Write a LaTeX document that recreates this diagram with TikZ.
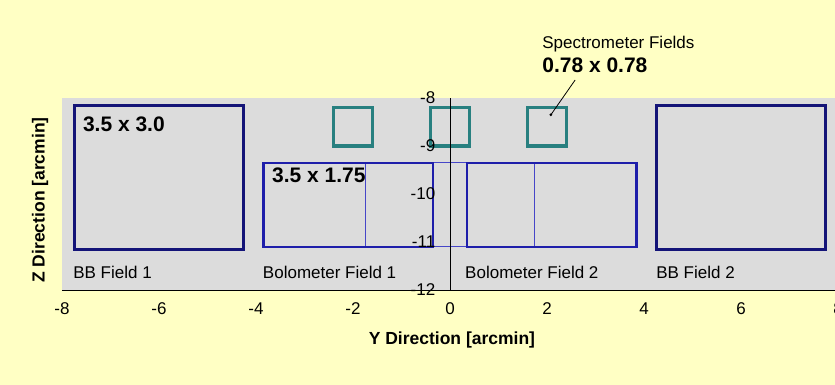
\documentclass[tikz,border=0pt]{standalone}
\usepackage{fontspec}
\setmainfont{Liberation Sans}
\usetikzlibrary{positioning}
\definecolor{bgyellow}{RGB}{255,255,196}
\definecolor{plotgray}{RGB}{220,220,220}
\definecolor{bbnavy}{RGB}{20,20,120}
\definecolor{boloblue}{RGB}{30,30,170}
\definecolor{thinblue}{RGB}{70,70,200}
\definecolor{specteal}{RGB}{40,128,128}
\begin{document}
\begin{tikzpicture}[x=48.5pt,y=48pt,font=\fontsize{17}{20}\selectfont,
  bbbox/.style={draw=bbnavy,line width=3pt}, bolobox/.style={draw=boloblue,line width=2.6pt},
  thinbox/.style={draw=thinblue,line width=1pt},
  specbox/.style={draw=specteal,line width=3.5pt,minimum width=38.8pt,minimum height=38.4pt,inner sep=0pt},
  sizelbl/.style={font=\fontsize{21}{24}\selectfont\bfseries,anchor=base west,inner sep=0pt},
  fieldlbl/.style={anchor=base west,inner sep=0pt}, ticklbl/.style={inner sep=0pt},
  axlbl/.style={font=\fontsize{17.5}{20}\selectfont\bfseries,inner sep=0pt}]
  \useasboundingbox (-450pt,-671pt) rectangle (385pt,-286pt);
  \fill[bgyellow] (-450pt,-671pt) rectangle (385pt,-286pt);
  \fill[plotgray] (-8,-8) rectangle (8,-12);
  % fields
  \draw[thinbox] (-1.75,-9.35) rectangle (1.75,-11.1);
  \draw[bolobox] (-3.85,-9.35) rectangle (-0.35,-11.1);
  \draw[bolobox] (0.35,-9.35) rectangle (3.85,-11.1);
  \draw[bbbox] (-7.75,-8.15) rectangle (-4.25,-11.15);
  \draw[bbbox] (4.25,-8.15) rectangle (7.75,-11.15);
  \node[specbox](spec1) at (-2,-8.6){};
  \node[specbox](spec2) at (0,-8.6){};
  \node[specbox](spec3) at (2,-8.6){};
  % axes
  \draw[line width=0.8pt] (0,-8)--(0,-12);
  \draw[line width=0.8pt] (-8,-12)--(8,-12);
  \node[ticklbl,anchor=east](z8) at (-0.3,-8){-8};
  \node[ticklbl,anchor=east](z9) at (-0.3,-9){-9};
  \node[ticklbl,anchor=east](z10) at (-0.3,-10){-10};
  \node[ticklbl,anchor=east](z11) at (-0.3,-11){-11};
  \node[ticklbl,anchor=east](z12) at (-0.3,-12){-12};
  \node[ticklbl,anchor=base](ym8) at (-8,-12.52){-8};  \node[ticklbl,anchor=base](ym6) at (-6,-12.52){-6};
  \node[ticklbl,anchor=base](ym4) at (-4,-12.52){-4};  \node[ticklbl,anchor=base](ym2) at (-2,-12.52){-2};
  \node[ticklbl,anchor=base](y0) at (0,-12.52){0};     \node[ticklbl,anchor=base](y2) at (2,-12.52){2};
  \node[ticklbl,anchor=base](y4) at (4,-12.52){4};     \node[ticklbl,anchor=base](y6) at (6,-12.52){6};
  \node[ticklbl,anchor=base](y8) at (8,-12.52){8};
  \node[axlbl](ytitle) at (0.04,-13.04){Y Direction [arcmin]};
  \node[axlbl,rotate=90](ztitle) at (-8.45,-10.125){Z Direction [arcmin]};
  % labels
  \node[sizelbl](bbsize) at (-7.57,-8.70){3.5 x 3.0};
  \node[sizelbl](bolosize) at (-3.67,-9.77){3.5 x 1.75};
  \node[fieldlbl](bb1) at (-7.77,-11.75){BB Field 1};
  \node[fieldlbl](bolo1) at (-3.86,-11.75){Bolometer Field 1};
  \node[fieldlbl](bolo2) at (0.31,-11.75){Bolometer Field 2};
  \node[fieldlbl](bb2) at (4.25,-11.75){BB Field 2};
  \node[fieldlbl](spectitle) at (1.90,-6.96){Spectrometer Fields};
  \node[sizelbl](specsize) at (1.90,-7.46){0.78 x 0.78};
  \coordinate(leadtop) at (2.58,-7.625); \coordinate(leadend) at (2.08,-8.35);
  \draw[line width=0.8pt] (leadtop)--(leadend); \fill (leadend) circle (1.5pt);
\end{tikzpicture}
\end{document}
